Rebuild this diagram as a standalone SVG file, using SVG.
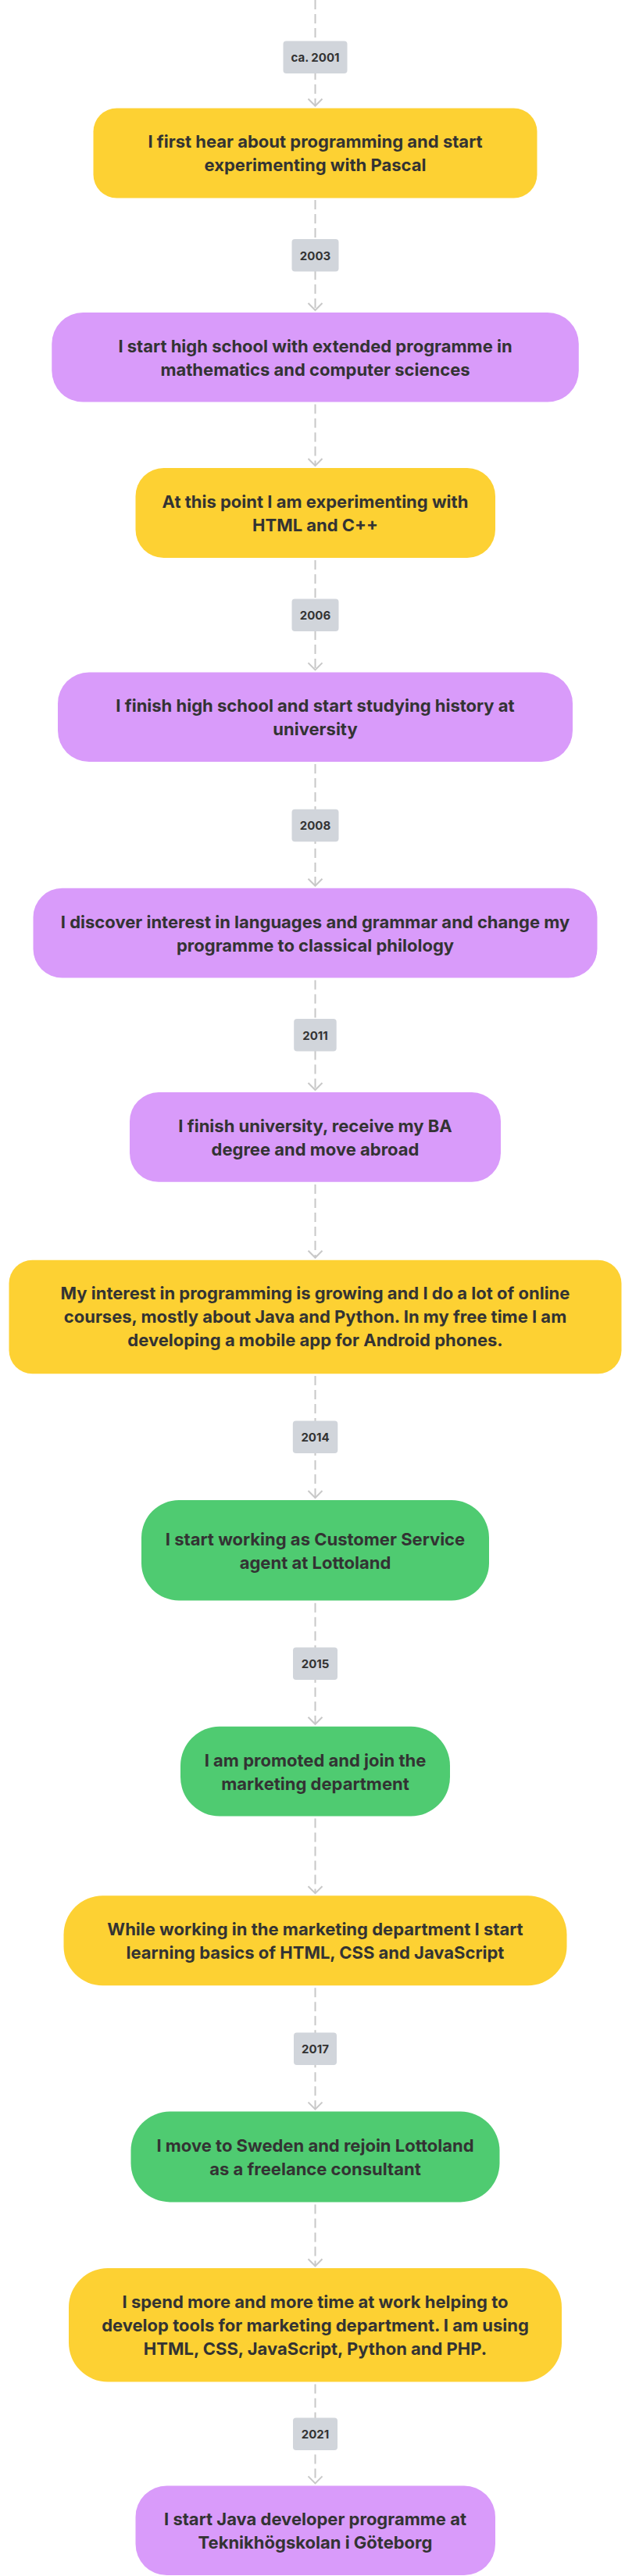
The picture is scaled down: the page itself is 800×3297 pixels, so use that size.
<svg xmlns="http://www.w3.org/2000/svg" width="800" height="3297" viewBox="0 0 800 3297">
<style>
.bg{fill:#ffffff}
.edge{fill:none;stroke:#c8c8c8;stroke-width:2;stroke-dasharray:12 6}
.y{fill:#fdd133}
.p{fill:#d99bfa}
.g{fill:#4fcb71}
.lbl{fill:#d1d5db}
.t{font-family:Inter,"Noto Sans","Liberation Sans",sans-serif;font-size:22px;font-weight:700;fill:#333333;text-anchor:middle}
.lt{font-family:Inter,"Noto Sans","Liberation Sans",sans-serif;font-size:15px;font-weight:700;fill:#333333;text-anchor:middle}
</style>
<defs>
<marker id="arr" viewBox="-11 -11 22 22" refX="0" refY="0" markerWidth="22" markerHeight="22" markerUnits="userSpaceOnUse" orient="auto">
<path d="M-9,-9 L0,0 L-9,9" fill="none" stroke="#c8c8c8" stroke-width="2"/>
</marker>
</defs>
<rect class="bg" x="0" y="0" width="800" height="3297"/>
<g id="connectors">
<path class="edge" d="M403.5,0 V135.5" marker-end="url(#arr)"/>
<path class="edge" d="M403.5,256 V397" marker-end="url(#arr)"/>
<path class="edge" d="M403.5,517.6 V596" marker-end="url(#arr)"/>
<path class="edge" d="M403.5,717 V857.4" marker-end="url(#arr)"/>
<path class="edge" d="M403.5,978 V1133.8" marker-end="url(#arr)"/>
<path class="edge" d="M403.5,1254.5 V1395" marker-end="url(#arr)"/>
<path class="edge" d="M403.5,1516 V1609.8" marker-end="url(#arr)"/>
<path class="edge" d="M403.5,1761 V1917" marker-end="url(#arr)"/>
<path class="edge" d="M403.5,2051.8 V2206.8" marker-end="url(#arr)"/>
<path class="edge" d="M403.5,2327.5 V2423.2" marker-end="url(#arr)"/>
<path class="edge" d="M403.5,2544.3 V2699.6" marker-end="url(#arr)"/>
<path class="edge" d="M403.5,2821.4 V2900.3" marker-end="url(#arr)"/>
<path class="edge" d="M403.5,3051.5 V3178.4" marker-end="url(#arr)"/>
</g>
<g id="labels">
<g id="l2001"><rect class="lbl" x="362.5" y="52.5" width="82" height="41.5" rx="4"/><text class="lt" x="403.5" y="79">ca. 2001</text></g>
<g id="l2003"><rect class="lbl" x="373.5" y="306" width="60" height="41.5" rx="4"/><text class="lt" x="403.5" y="332.5">2003</text></g>
<g id="l2006"><rect class="lbl" x="373.5" y="766.5" width="60" height="41.5" rx="4"/><text class="lt" x="403.5" y="793">2006</text></g>
<g id="l2008"><rect class="lbl" x="373.5" y="1035.8" width="60" height="41.5" rx="4"/><text class="lt" x="403.5" y="1062.3">2008</text></g>
<g id="l2011"><rect class="lbl" x="376.2" y="1304" width="54.5" height="41.5" rx="4"/><text class="lt" x="403.5" y="1330.5">2011</text></g>
<g id="l2014"><rect class="lbl" x="374.8" y="1818.5" width="57.5" height="41.5" rx="4"/><text class="lt" x="403.5" y="1845">2014</text></g>
<g id="l2015"><rect class="lbl" x="375" y="2108.4" width="57" height="41.5" rx="4"/><text class="lt" x="403.5" y="2134.9">2015</text></g>
<g id="l2017"><rect class="lbl" x="376" y="2601.5" width="55" height="41.5" rx="4"/><text class="lt" x="403.5" y="2628">2017</text></g>
<g id="l2021"><rect class="lbl" x="375" y="3094.5" width="57" height="41.5" rx="4"/><text class="lt" x="403.5" y="3121">2021</text></g>
</g>
<g id="n1"><rect class="y" x="119.5" y="138.5" width="568" height="115" rx="30"/><text class="t" x="403.5" y="189.4">I first hear about programming and start</text><text class="t" x="403.5" y="219.4">experimenting with Pascal</text></g>
<g id="n2"><rect class="p" x="66.3" y="400" width="674.5" height="114.6" rx="40"/><text class="t" x="403.5" y="450.7">I start high school with extended programme in</text><text class="t" x="403.5" y="480.7">mathematics and computer sciences</text></g>
<g id="n3"><rect class="y" x="173.5" y="599" width="460.5" height="115" rx="36"/><text class="t" x="403.5" y="649.9">At this point I am experimenting with</text><text class="t" x="403.5" y="679.9">HTML and C++</text></g>
<g id="n4"><rect class="p" x="74" y="860.4" width="659" height="114.7" rx="40"/><text class="t" x="403.5" y="911.2">I finish high school and start studying history at</text><text class="t" x="403.5" y="941.2">university</text></g>
<g id="n5"><rect class="p" x="42.5" y="1136.8" width="722" height="114.7" rx="37"/><text class="t" x="403.5" y="1187.6">I discover interest in languages and grammar and change my</text><text class="t" x="403.5" y="1217.6">programme to classical philology</text></g>
<g id="n6"><rect class="p" x="166" y="1398.1" width="475" height="114.7" rx="37"/><text class="t" x="403.5" y="1448.9">I finish university, receive my BA</text><text class="t" x="403.5" y="1478.9">degree and move abroad</text></g>
<g id="n7"><rect class="y" x="11.5" y="1612.8" width="784" height="145.5" rx="30"/><text class="t" x="403.5" y="1663.4">My interest in programming is growing and I do a lot of online</text><text class="t" x="403.5" y="1693.4">courses, mostly about Java and Python. In my free time I am</text><text class="t" x="403.5" y="1723.4">developing a mobile app for Android phones.</text></g>
<g id="n8"><rect class="g" x="181" y="1920" width="445" height="128.5" rx="48"/><text class="t" x="403.5" y="1977.7">I start working as Customer Service</text><text class="t" x="403.5" y="2007.7">agent at Lottoland</text></g>
<g id="n9"><rect class="g" x="231" y="2209.8" width="345" height="114.7" rx="50"/><text class="t" x="403.5" y="2260.6">I am promoted and join the</text><text class="t" x="403.5" y="2290.6">marketing department</text></g>
<g id="n10"><rect class="y" x="81.5" y="2426.2" width="644" height="115" rx="50"/><text class="t" x="403.5" y="2477.1">While working in the marketing department I start</text><text class="t" x="403.5" y="2507.1">learning basics of HTML, CSS and JavaScript</text></g>
<g id="n11"><rect class="g" x="167.5" y="2702.6" width="472" height="115.8" rx="50"/><text class="t" x="403.5" y="2753.9">I move to Sweden and rejoin Lottoland</text><text class="t" x="403.5" y="2783.9">as a freelance consultant</text></g>
<g id="n12"><rect class="y" x="88" y="2903" width="631" height="145.5" rx="50"/><text class="t" x="403.5" y="2953.6">I spend more and more time at work helping to</text><text class="t" x="403.5" y="2983.6">develop tools for marketing department. I am using</text><text class="t" x="403.5" y="3013.6">HTML, CSS, JavaScript, Python and PHP.</text></g>
<g id="n13"><rect class="p" x="173.5" y="3181.4" width="460.5" height="114.7" rx="40"/><text class="t" x="403.5" y="3232.2">I start Java developer programme at</text><text class="t" x="403.5" y="3262.2">Teknikhögskolan i Göteborg</text></g>
</svg>
